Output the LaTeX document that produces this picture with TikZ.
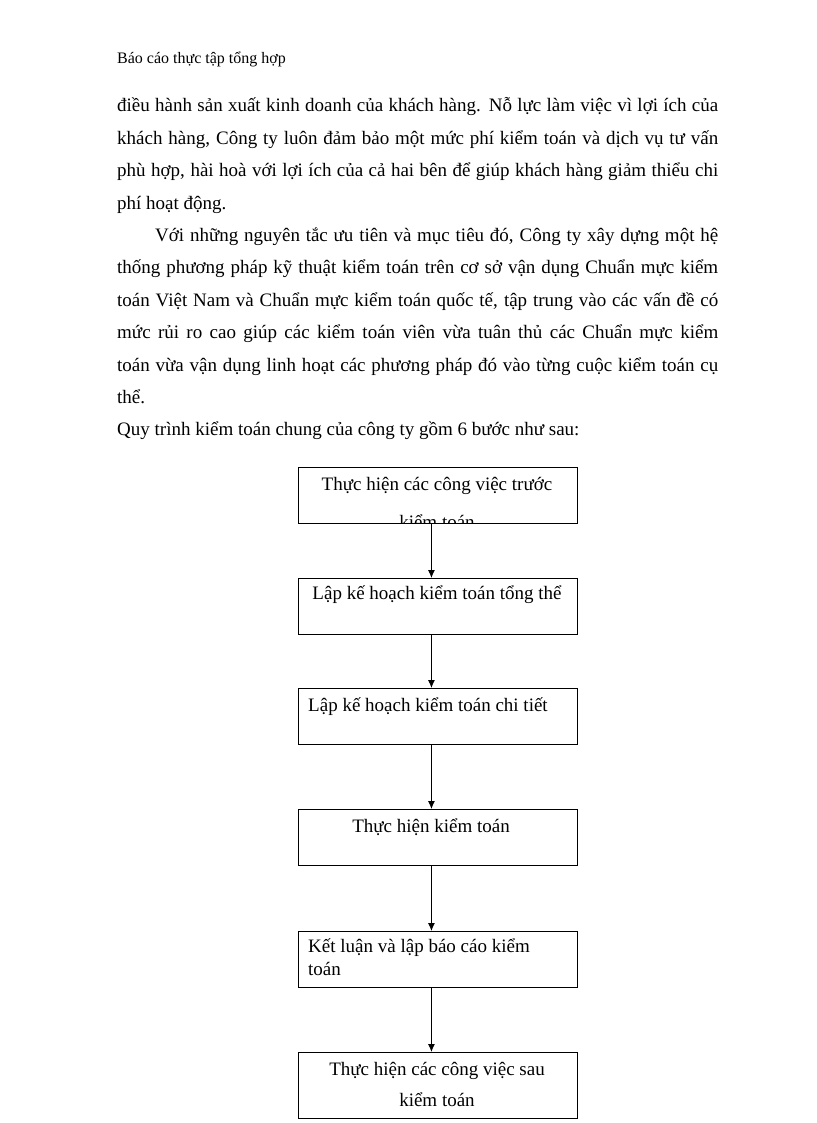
\documentclass[tikz,border=0pt]{standalone}
\usepackage{fontspec}
\setmainfont{Liberation Serif}
\usetikzlibrary{arrows.meta}
\tikzset{
  stepbox/.style={draw=black, line width=0.9pt, minimum width=279pt, minimum height=56pt, inner sep=0pt},
  boxtext/.style={font=\fontsize{19pt}{22pt}\selectfont, inner sep=0pt},
  flow/.style={draw=black, line width=0.9pt, -{Latex[length=8pt,width=7pt]}}
}
\begin{document}
\begin{tikzpicture}[x=1pt,y=-1pt]
\useasboundingbox (0,0) rectangle (816,1123);
\fill[white] (0,0) rectangle (816,1123);
\node[anchor=base west, inner sep=0pt, font=\fontsize{16pt}{19pt}\selectfont] (hdr) at (117,64) {Báo cáo thực tập tổng hợp};
\node[anchor=base west, inner sep=0pt, font=\fontsize{19pt}{32.4pt}\selectfont] (body) at (117,112)
{\parbox[t]{601pt}{\parindent=0pt\baselineskip=32.4pt\parskip=0pt
điều hành sản xuất kinh doanh của khách hàng. Nỗ lực làm việc vì lợi ích của\linebreak
khách hàng, Công ty luôn đảm bảo một mức phí kiểm toán và dịch vụ tư vấn\linebreak
phù hợp, hài hoà với lợi ích của cả hai bên để giúp khách hàng giảm thiểu chi\linebreak
phí hoạt động.\par
\hspace*{38pt}Với những nguyên tắc ưu tiên và mục tiêu đó, Công ty xây dựng một hệ\linebreak
thống phương pháp kỹ thuật kiểm toán trên cơ sở vận dụng Chuẩn mực kiểm\linebreak
toán Việt Nam và Chuẩn mực kiểm toán quốc tế, tập trung vào các vấn đề có\linebreak
mức rủi ro cao giúp các kiểm toán viên vừa tuân thủ các Chuẩn mực kiểm\linebreak
toán vừa vận dụng linh hoạt các phương pháp đó vào từng cuộc kiểm toán cụ\linebreak
thể.\par
Quy trình kiểm toán chung của công ty gồm 6 bước như sau:}};
% boxes
\node[stepbox, anchor=north west] (b1) at (298,467) {};
\node[stepbox, anchor=north west] (b2) at (298,578) {};
\node[stepbox, anchor=north west] (b3) at (298,688) {};
\node[stepbox, anchor=north west] (b4) at (298,809) {};
\node[stepbox, anchor=north west] (b5) at (298,931) {};
\node[stepbox, anchor=north west, minimum height=66pt] (b6) at (298,1052) {};
% texts
\node[boxtext, anchor=base] (t1a) at (437,490) {Thực hiện các công việc trước};
\begin{scope}
\clip (298,467) rectangle (577,522);
\node[boxtext, anchor=base] (t1b) at (437,528) {kiểm toán};
\end{scope}
\node[boxtext, anchor=base] (t2) at (437,599) {Lập kế hoạch kiểm toán tổng thể};
\node[boxtext, anchor=base west] (t3) at (308,711) {Lập kế hoạch kiểm toán chi tiết};
\node[boxtext, anchor=base] (t4) at (431,832) {Thực hiện kiểm toán};
\node[boxtext, anchor=base west] (t5a) at (308,952) {Kết luận và lập báo cáo kiểm};
\node[boxtext, anchor=base west] (t5b) at (308,975) {toán};
\node[boxtext, anchor=base] (t6a) at (437,1075) {Thực hiện các công việc sau};
\node[boxtext, anchor=base] (t6b) at (437,1106) {kiểm toán};
% arrows
\foreach \a/\b in {b1/b2,b2/b3,b3/b4,b4/b5,b5/b6}{
  \draw[flow] ([xshift=-6.5pt]\a.south) -- ([xshift=-6.5pt]\b.north);
}
\end{tikzpicture}
\end{document}
